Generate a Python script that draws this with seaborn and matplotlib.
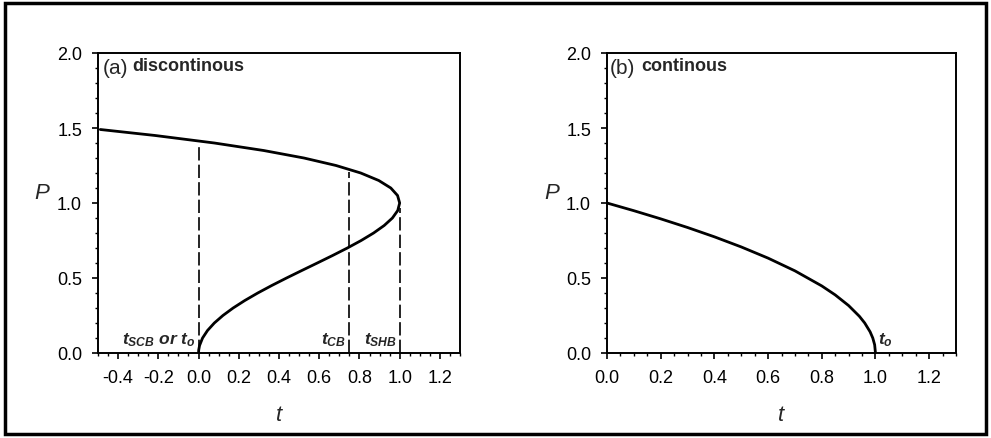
import numpy as np
import pandas as pd
import matplotlib
matplotlib.use("Agg")
import matplotlib.pyplot as plt
from matplotlib.patches import Rectangle
from matplotlib.ticker import MultipleLocator
import seaborn as sns

# ---- data ----
# panel (a): discontinuous fold curve, traced along P
a_P = [0.0, 0.02, 0.05, 0.1, 0.15, 0.2, 0.25, 0.3, 0.35, 0.4, 0.45, 0.5, 0.55, 0.6,
       0.65, 0.7, 0.75, 0.8, 0.85, 0.9, 0.95, 1.0, 1.05, 1.1, 1.15, 1.2, 1.25, 1.3,
       1.35, 1.4, 1.45, 1.49]
a_t = [0.0, 0.0008, 0.005, 0.0199, 0.0445, 0.0784, 0.1211, 0.1719, 0.230, 0.2944,
       0.364, 0.4375, 0.5135, 0.5904, 0.6665, 0.7399, 0.8086, 0.8704, 0.923, 0.9639,
       0.9905, 1.0, 0.9895, 0.9559, 0.896, 0.8064, 0.6836, 0.5239, 0.3235, 0.0784,
       -0.2155, -0.4887]
# dashed markers in panel (a): position and top end
a_marks_t = [0.0, 0.75, 1.0]
a_marks_top = [1.38, 1.21, 0.97]

# panel (b): continuous curve
b_t = [0.0, 0.1, 0.2, 0.3, 0.4, 0.5, 0.6, 0.7, 0.8, 0.85, 0.9, 0.94, 0.96, 0.98,
       0.99, 0.997, 1.0]
b_P = [1.0, 0.9487, 0.8944, 0.8367, 0.7746, 0.7071, 0.6325, 0.5477, 0.4472, 0.3873,
       0.3162, 0.2449, 0.2, 0.1414, 0.1, 0.0548, 0.0]

x_ticks_a = [-0.4, -0.2, 0.0, 0.2, 0.4, 0.6, 0.8, 1.0, 1.2]
x_ticks_b = [0.0, 0.2, 0.4, 0.6, 0.8, 1.0, 1.2]
y_ticks = [0.0, 0.5, 1.0, 1.5, 2.0]

sns.set_theme(style="ticks")
plt.rcParams['font.family'] = ['Liberation Sans', 'DejaVu Sans']
plt.rcParams['mathtext.fontset'] = 'custom'
plt.rcParams['mathtext.it'] = 'Liberation Sans:italic:bold'
plt.rcParams['mathtext.rm'] = 'Liberation Sans:bold'
plt.rcParams['mathtext.bf'] = 'Liberation Sans:bold'

fig = plt.figure(figsize=(9.91, 4.39), dpi=100)
axA = fig.add_axes([98/991, 1-354/439, 362/991, 300/439])
axB = fig.add_axes([607/991, 1-354/439, 349/991, 300/439])

dfa = pd.DataFrame({"t": a_t, "P": a_P})
dfb = pd.DataFrame({"t": b_t, "P": b_P})

sns.lineplot(data=dfa, x="t", y="P", sort=False, estimator=None, color="black",
             linewidth=2.0, ax=axA)
sns.lineplot(data=dfb, x="t", y="P", sort=False, estimator=None, color="black",
             linewidth=2.0, ax=axB)

for xt, top in zip(a_marks_t, a_marks_top):
    axA.plot([xt, xt], [0, top], color="black", linewidth=1.2,
             linestyle=(0, (8, 2.5)))

TICKFS = 13
for ax, xlim, xt in [(axA, (-0.5, 1.3), x_ticks_a), (axB, (0.0, 1.3), x_ticks_b)]:
    ax.set_xlim(*xlim)
    ax.set_ylim(0, 2.0)
    ax.set_xticks(xt)
    ax.set_xticklabels([f"{v:.1f}" for v in xt], fontsize=TICKFS)
    ax.set_yticks(y_ticks)
    ax.set_yticklabels([f"{v:.1f}" for v in y_ticks], fontsize=TICKFS)
    ax.xaxis.set_minor_locator(MultipleLocator(0.05))
    ax.yaxis.set_minor_locator(MultipleLocator(0.1))
    ax.tick_params(which="major", direction="out", length=4.5, width=1.2,
                   color="black", labelcolor="black", pad=7)
    ax.tick_params(which="minor", direction="out", length=2.5, width=1.0,
                   color="black")
    for s in ax.spines.values():
        s.set_visible(True)
        s.set_linewidth(1.4)
        s.set_color("black")
    ax.set_xlabel("t", fontsize=16, style="italic")
    ax.set_ylabel("P", fontsize=16, style="italic", rotation=0, va="center")

axA.xaxis.set_label_coords(0.5, -0.17)
axB.xaxis.set_label_coords(0.5, -0.17)
axA.yaxis.set_label_coords(-0.155, 0.535)
axB.yaxis.set_label_coords(-0.158, 0.535)

# panel titles
axA.text(0.014, 0.952, "(a)", transform=axA.transAxes, fontsize=15, va="center",
         ha="left")
axA.text(0.094, 0.957, "discontinous", transform=axA.transAxes, fontsize=13,
         fontweight="bold", va="center", ha="left")
axB.text(0.009, 0.952, "(b)", transform=axB.transAxes, fontsize=15, va="center",
         ha="left")
axB.text(0.099, 0.957, "continous", transform=axB.transAxes, fontsize=13,
         fontweight="bold", va="center", ha="left")

# annotations
axA.text(-0.015, 0.09, r"$t_{SCB}$ $or$ $t_o$", fontsize=12.5, ha="right", va="center")
axA.text(0.735, 0.09, r"$t_{CB}$", fontsize=12.5, ha="right", va="center")
axA.text(0.825, 0.09, r"$t_{SHB}$", fontsize=12.5, ha="left", va="center")
axB.text(1.01, 0.09, r"$t_o$", fontsize=12.5, ha="left", va="center")

fig.patches.append(Rectangle((0.005, 0.008), 0.99, 0.984, transform=fig.transFigure,
                             fill=False, edgecolor="black", linewidth=2.5))

fig.savefig("out.png", dpi=100, facecolor="white")
